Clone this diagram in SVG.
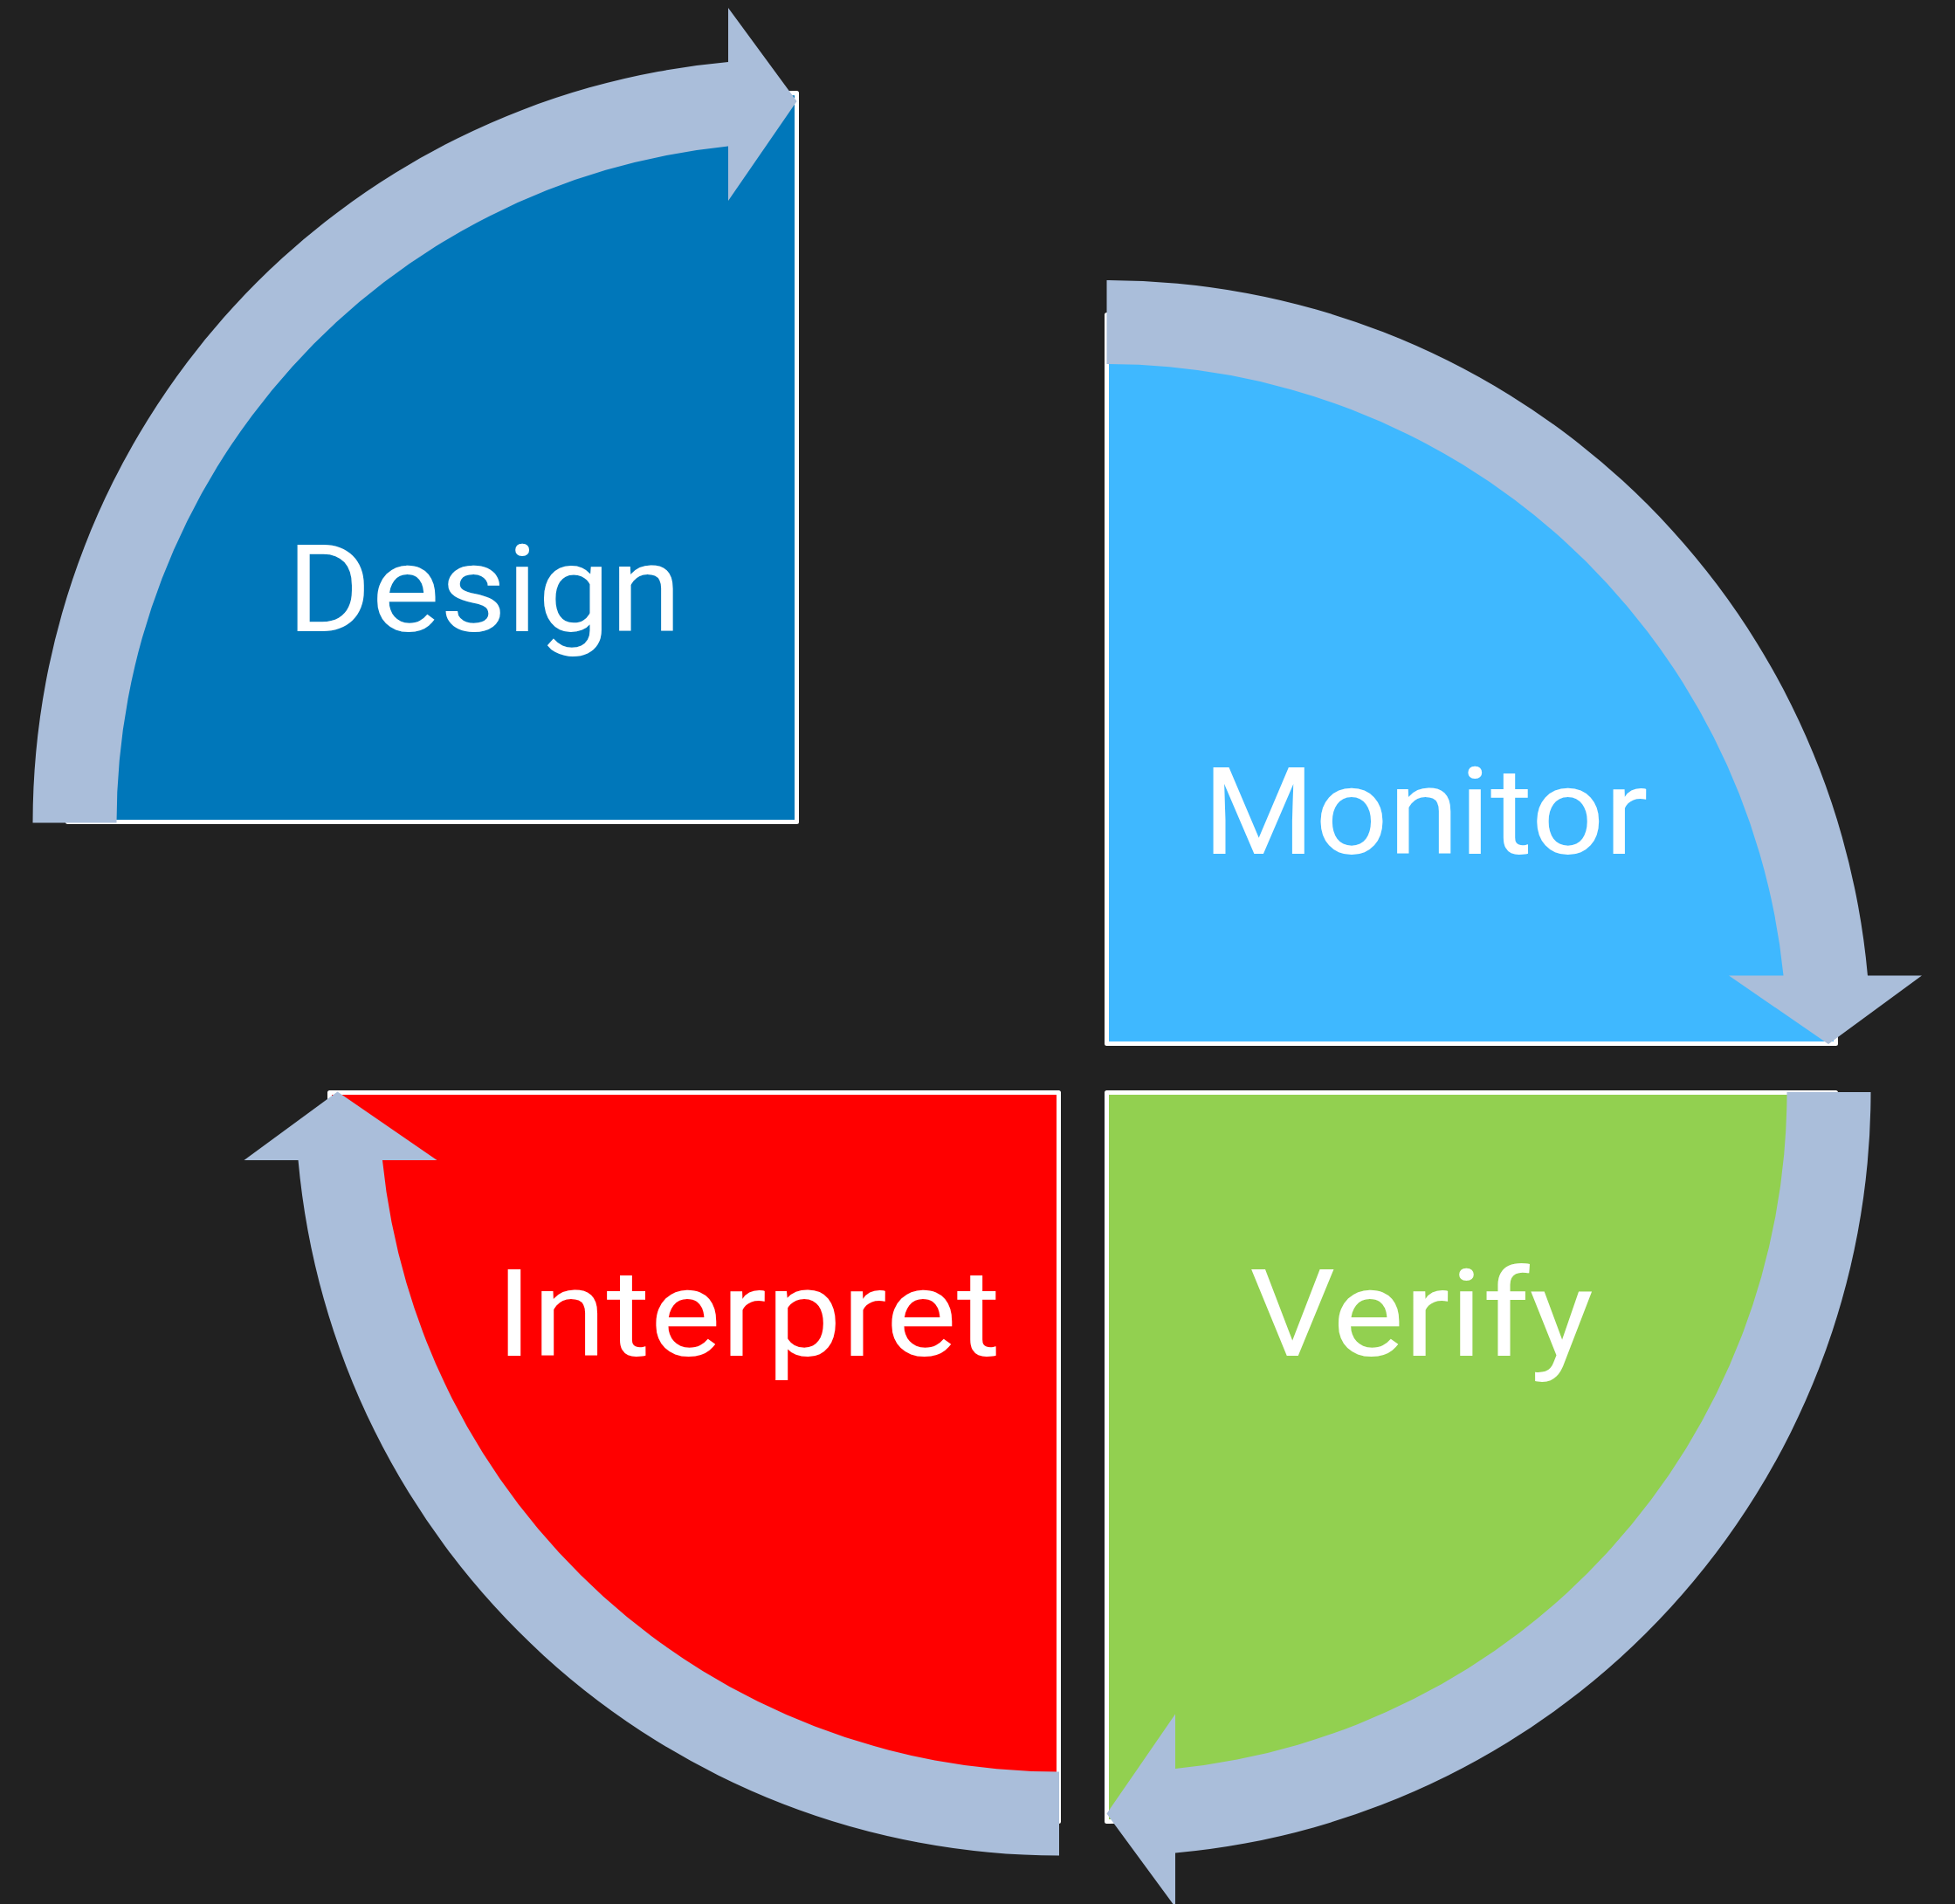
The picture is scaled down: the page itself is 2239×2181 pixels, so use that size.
<svg xmlns="http://www.w3.org/2000/svg" width="2239" height="2181" viewBox="0 0 2239 2181">
  <style>
    .pie { stroke: #FFFFFF; stroke-width: 5; stroke-linejoin: round; }
    .label { font-family: Roboto, Lato, "Liberation Sans", sans-serif; font-weight: 400; font-size: 140px; fill: #FFFFFF; text-anchor: middle; }
    .arrow { fill: #AABEDA; }
  </style>
  <defs>
    <!-- quarter disc, centre at the origin, opening to the upper left -->
    <path id="quarter" d="M 0 0 L -835 0 A 835 835 0 0 1 0 -835 Z"/>
    <!-- circular arrow band from the left end sweeping clockwise to the top -->
    <path id="arc-arrow" d="M -875 0 A 875 875 0 0 1 -78.5 -871.47 L -78.5 -933.5 L 0 -826.5 L -78.5 -712.5 L -78.5 -775.03 A 779 779 0 0 0 -779 0 Z"/>
  </defs>

  <rect width="2239" height="2181" fill="#212121"/>

  <g id="design">
    <use href="#quarter" class="pie" fill="#0077BA" transform="translate(912.5 941.5)"/>
    <text class="label" x="554.5" y="723" textLength="452" lengthAdjust="spacingAndGlyphs">Design</text>
  </g>

  <g id="monitor">
    <use href="#quarter" class="pie" fill="#3FB8FF" transform="translate(1267.5 1195.5) rotate(90)"/>
    <text class="label" x="1632.5" y="978" textLength="510" lengthAdjust="spacingAndGlyphs">Monitor</text>
  </g>

  <g id="verify">
    <use href="#quarter" class="pie" fill="#92D050" transform="translate(1267.5 1251.5) rotate(180)"/>
    <text class="label" x="1628" y="1553" textLength="394" lengthAdjust="spacingAndGlyphs">Verify</text>
  </g>

  <g id="interpret">
    <use href="#quarter" class="pie" fill="#FF0000" transform="translate(1212.5 1251.5) rotate(270)"/>
    <text class="label" x="857" y="1553" textLength="578" lengthAdjust="spacingAndGlyphs">Interpret</text>
  </g>

  <g id="connectors">
    <use href="#arc-arrow" class="arrow" transform="translate(912.5 942.5)"/>
    <use href="#arc-arrow" class="arrow" transform="translate(1267.5 1196) rotate(90)"/>
    <use href="#arc-arrow" class="arrow" transform="translate(1267.5 1251) rotate(180)"/>
    <use href="#arc-arrow" class="arrow" transform="translate(1213 1250.5) rotate(270)"/>
  </g>
</svg>
